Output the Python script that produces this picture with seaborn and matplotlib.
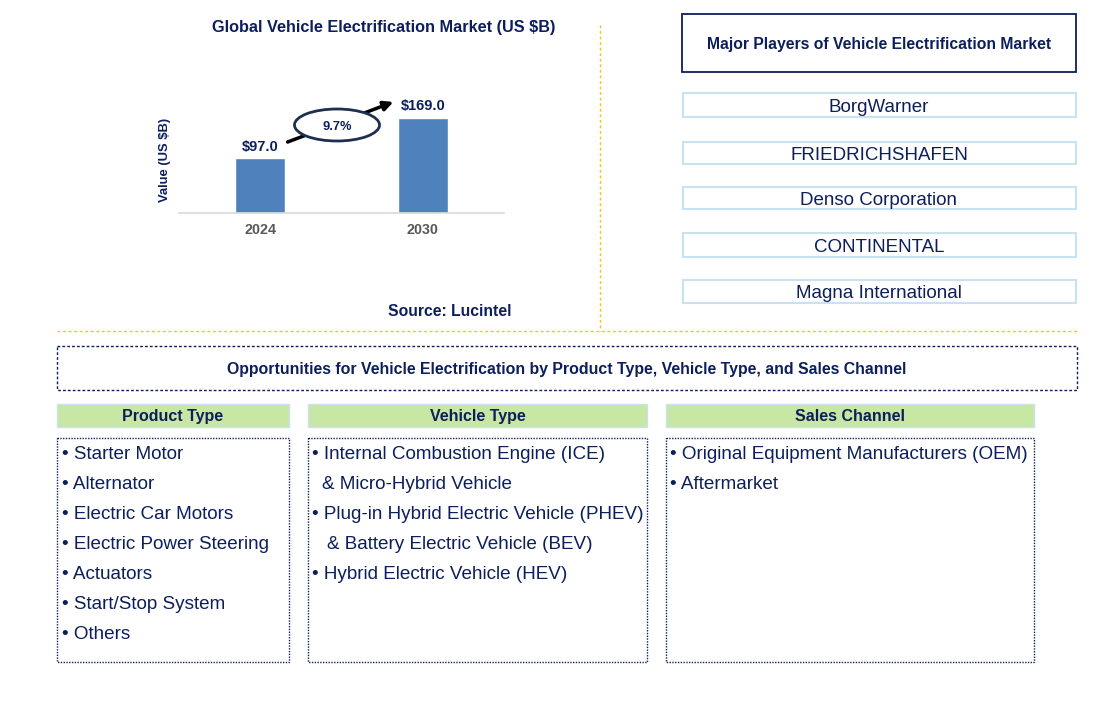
import matplotlib
matplotlib.use('Agg')
import matplotlib.pyplot as plt
import seaborn as sns
from matplotlib.patches import Rectangle, Ellipse

# chart data
years = ['2024', '2030']
market_values = [97.0, 169.0]
cagr_label = '9.7%'

players = ['BorgWarner', 'FRIEDRICHSHAFEN', 'Denso Corporation',
           'CONTINENTAL', 'Magna International']

product_types = ['Starter Motor', 'Alternator', 'Electric Car Motors',
                 'Electric Power Steering', 'Actuators', 'Start/Stop System', 'Others']
vehicle_types = ['• Internal Combustion Engine (ICE)', '& Micro-Hybrid Vehicle',
                 '• Plug-in Hybrid Electric Vehicle (PHEV)', '& Battery Electric Vehicle (BEV)',
                 '• Hybrid Electric Vehicle (HEV)']
sales_channels = ['Original Equipment Manufacturers (OEM)', 'Aftermarket']

NAVY = '#0C1F5C'
BAR = '#4F81BD'
GOLD = '#FFC000'
GREEN = '#C9E7A4'
LIGHTBLUE = '#C8E2F2'

sns.set_style('white')
plt.rcParams['font.family'] = ['Liberation Sans', 'DejaVu Sans']

W, H = 1114, 703
fig = plt.figure(figsize=(W / 100, H / 100), dpi=100)

# --- bar chart (pixel box: x 179..504, y 60..213)
ax = fig.add_axes([179 / W, 1 - 213 / H, 325 / W, 153 / H])
sns.barplot(x=years, y=market_values, color=BAR, saturation=1, width=0.307, ax=ax)
ax.set_xlim(-0.5, 1.5)
ax.set_ylim(0, 272)
ax.set_yticks([])
ax.set_xlabel('')
ax.set_ylabel('')
for side in ['top', 'right', 'left']:
    ax.spines[side].set_visible(False)
ax.spines['bottom'].set_color('#D9D9D9')
ax.spines['bottom'].set_linewidth(1.2)
ax.tick_params(axis='x', length=0, pad=7, labelsize=10.3, labelcolor='#595959')
for lbl in ax.get_xticklabels():
    lbl.set_fontweight('bold')
ax.bar_label(ax.containers[0], labels=[f'${v:.1f}' for v in market_values],
             padding=3.5, fontsize=10.5, fontweight='bold', color=NAVY)

# --- overlay in pixel coordinates
ov = fig.add_axes([0, 0, 1, 1])
ov.set_xlim(0, W)
ov.set_ylim(H, 0)
ov.axis('off')


def put(x, y, s, size, bold=False, ha='center', **kw):
    # y is the visual middle of the capitals; convert to baseline
    cap = 0.716 * size * 100 / 72
    ov.text(x, y + cap / 2, s, ha=ha, va='baseline', fontsize=size,
            fontweight='bold' if bold else 'normal', color=NAVY, **kw)


put(384, 26, 'Global Vehicle Electrification Market (US $B)', 11.7, bold=True)
ov.text(165, 160, 'Value (US $B)', ha='center', va='center', rotation=90,
        fontsize=9.4, fontweight='bold', color=NAVY)
ov.annotate('', xy=(396, 101), xytext=(285, 143),
            arrowprops=dict(arrowstyle='-|>', color='black', lw=2.5, mutation_scale=14),
            zorder=2)
ov.add_patch(Ellipse((337, 125), 85, 32, facecolor='white', edgecolor='#1F2F4F', lw=2, zorder=4))
put(337, 125, cagr_label, 9.3, bold=True, zorder=5)
put(450, 310, 'Source: Lucintel', 11.3, bold=True)

# gold separators
ov.plot([600, 600], [25, 331], color=GOLD, lw=1, linestyle=(0, (2, 2)))
ov.plot([57, 1077], [331, 331], color=GOLD, lw=1, linestyle=(0, (2, 2)))

# major players
ov.add_patch(Rectangle((682, 14), 394, 58, facecolor='white', edgecolor=NAVY, lw=1.3))
put(879, 43, 'Major Players of Vehicle Electrification Market', 11.3, bold=True)
player_boxes = [(93, 117), (142, 164), (187, 209), (233, 257), (280, 303)]
for name, (y0, y1) in zip(players, player_boxes):
    ov.add_patch(Rectangle((683, y0), 393, y1 - y0, facecolor='white', edgecolor=LIGHTBLUE, lw=1.5))
    put(879, (y0 + y1) / 2, name, 13.5)

# opportunities
ov.add_patch(Rectangle((57, 346), 1020, 44, facecolor='none', edgecolor=NAVY, lw=1,
                       linestyle=(0, (2, 1.5))))
put(567, 368, 'Opportunities for Vehicle Electrification by Product Type, Vehicle Type, and Sales Channel',
    11.45, bold=True)

columns = [
    ('Product Type', 57, 289, ['• ' + p for p in product_types], [61.5] * len(product_types)),
    ('Vehicle Type', 308, 647, vehicle_types, [312.5, 322, 312.5, 327, 312.5]),
    ('Sales Channel', 666, 1034, ['• ' + s for s in sales_channels], [670, 670]),
]
for title, x0, x1, items, xs in columns:
    ov.add_patch(Rectangle((x0, 404), x1 - x0, 23, facecolor=GREEN, edgecolor=LIGHTBLUE, lw=1))
    put((x0 + x1) / 2, 415.5, title, 11.5, bold=True)
    ov.add_patch(Rectangle((x0, 438), x1 - x0, 224, facecolor='none', edgecolor=NAVY, lw=1,
                           linestyle=(0, (1, 1))))
    for i, (item, x) in enumerate(zip(items, xs)):
        put(x, 452 + 30 * i, item, 13.6, ha='left')

fig.savefig('out.png', dpi=100)
